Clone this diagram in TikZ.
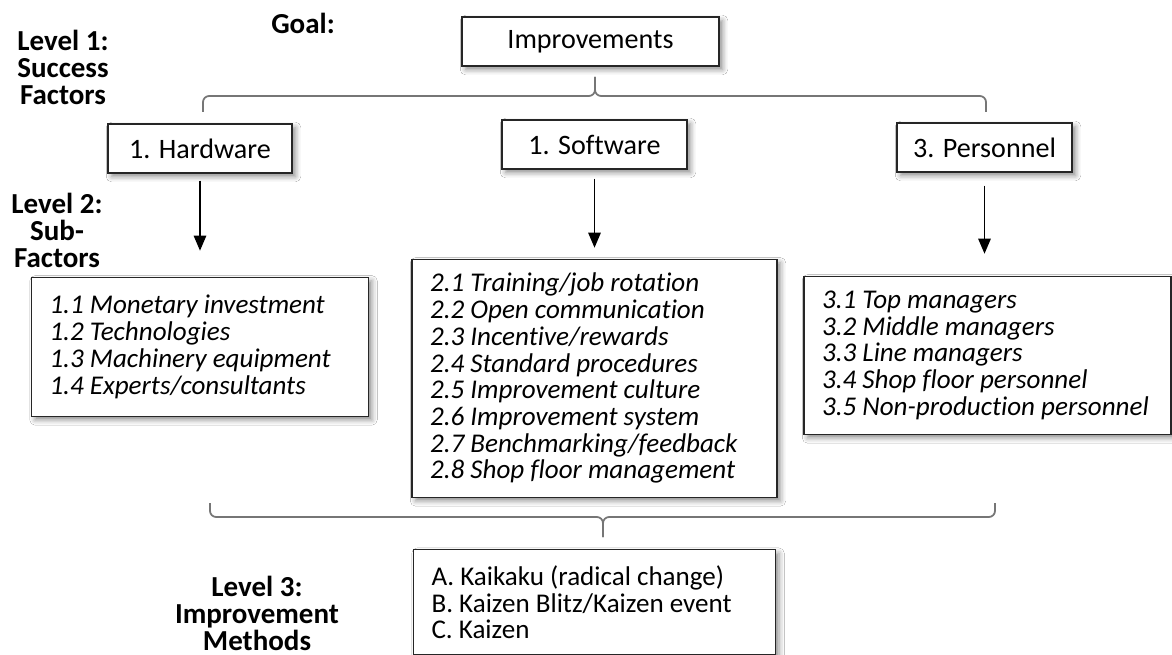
\documentclass[tikz,border=0pt]{standalone}
\usepackage{fontspec}
\setmainfont{Carlito}[Ligatures=NoCommon]
\usepackage{tikz}
\usetikzlibrary{arrows.meta, positioning, shadows.blur}
\definecolor{bracegray}{RGB}{118,118,118}

\begin{document}
\begin{tikzpicture}[
    x=0.02cm, y=-0.02cm,
    node distance=1cm,
    shade/.style={blur shadow={shadow xshift=2pt, shadow yshift=-2pt, shadow blur radius=3pt, shadow opacity=45}},
    box/.style={rectangle, draw=black!85, line width=0.8pt, fill=white, shade, minimum width=#1, minimum height=0.98cm, align=center, font=\fontsize{16}{18}\selectfont},
    list/.style={rectangle, draw=black!85, line width=0.8pt, fill=white, shade, text width=#1, inner xsep=0.36cm, align=flush left, font=\itshape\fontsize{15.4}{15.2}\selectfont},
    level/.style={align=center, font=\bfseries\fontsize{16.5}{15.4}\selectfont},
    arrow/.style={-{Triangle[length=0.3cm, width=0.25cm]}, line width=0.7pt},
    brace/.style={draw=bracegray, line width=1pt, rounded corners=3.5pt}
]
\path[use as bounding box, fill=white] (0,0) rectangle (1172,655);

% level labels
\node[level] (goallab) at (303,23) {Goal:};
\node[level] (lvl1) at (63,67) {Level 1:\\Success\\Factors};
\node[level] (lvl2) at (57,230) {Level 2:\\Sub-\\Factors};
\node[level] (lvl3) at (257,613) {Level 3:\\Improvement\\Methods};

% goal and success factors
\node[box=5.14cm] (goal) at (590.5,41.5) {Improvements};
\node[box=3.68cm] (hw) at (200,148.5) {1. Hardware};
\node[box=3.70cm] (sw) at (594.5,144.5) {1. Software};
\node[box=3.50cm] (pers) at (984.5,147.5) {3. Personnel};

% sub-factors
\node[list=6.02cm, minimum height=2.78cm, below=2.06cm of hw] (hwsub) {1.1 Monetary investment\\1.2 Technologies\\1.3 Machinery equipment\\1.4 Experts/consultants};
\node[list=6.58cm, minimum height=4.76cm, below=1.78cm of sw] (swsub) {2.1 Training/job rotation\\2.2 Open communication\\2.3 Incentive/rewards\\2.4 Standard procedures\\2.5 Improvement culture\\2.6 Improvement system\\2.7 Benchmarking/feedback\\2.8 Shop floor management};
\node[list=6.62cm, minimum height=3.16cm, below=2.06cm of pers, xshift=0.06cm] (perssub) {3.1 Top managers\\3.2 Middle managers\\3.3 Line managers\\3.4 Shop floor personnel\\3.5 Non-production personnel};

% improvement methods
\node[list=6.52cm, minimum height=2.10cm, font=\fontsize{15.4}{15.2}\selectfont, below=1.02cm of swsub] (methods) {A. Kaikaku (radical change)\\B. Kaizen Blitz/Kaizen event\\C. Kaizen};

\draw[arrow, shorten <=0.14cm, shorten >=0.52cm] (hw.south) -- (hw.south |- hwsub.north);
\draw[arrow, shorten <=0.18cm, shorten >=0.22cm] (sw.south) -- (sw.south |- swsub.north);
\draw[arrow, shorten <=0.26cm, shorten >=0.44cm] (pers.south) -- (pers.south |- perssub.north);

% braces
\coordinate (topL) at (203,112);
\coordinate (topR) at (986,112);
\coordinate (topMid) at (595,96);
\coordinate (topTip) at (595,77);
\draw[brace] (topL) |- (topMid) -- (topTip);
\draw[brace] (topR) |- (topMid) -- (topTip);

\coordinate (botL) at (210,503);
\coordinate (botR) at (995,503);
\coordinate (botMid) at (603,517);
\coordinate (botTip) at (603,537);
\draw[brace] (botL) |- (botMid) -- (botTip);
\draw[brace] (botR) |- (botMid) -- (botTip);
\end{tikzpicture}
\end{document}
